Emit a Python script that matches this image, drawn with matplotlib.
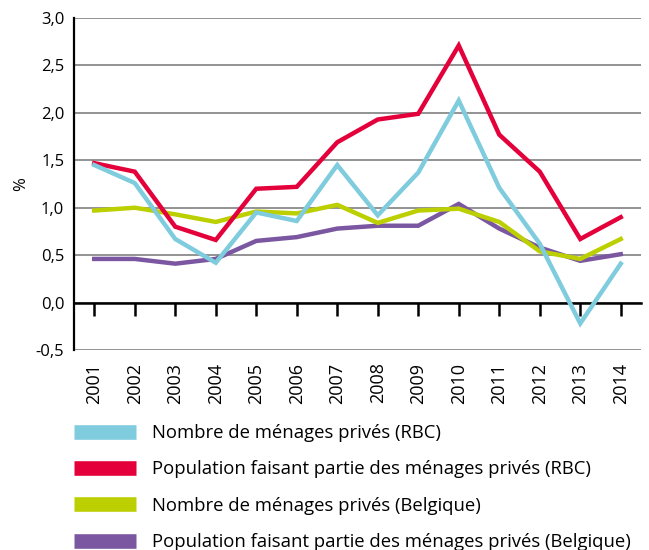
import matplotlib
matplotlib.use("Agg")
import matplotlib.pyplot as plt
from matplotlib.lines import Line2D

plt.rcParams['font.family'] = ['Open Sans', 'DejaVu Sans']

years = ['2001', '2002', '2003', '2004', '2005', '2006', '2007',
         '2008', '2009', '2010', '2011', '2012', '2013', '2014']

menages_rbc = [1.45, 1.26, 0.67, 0.42, 0.95, 0.86, 1.45, 0.92, 1.37, 2.13, 1.21, 0.62, -0.22, 0.41]
pop_rbc = [1.47, 1.38, 0.80, 0.66, 1.20, 1.22, 1.69, 1.93, 1.99, 2.71, 1.77, 1.38, 0.67, 0.90]
menages_be = [0.97, 1.00, 0.93, 0.85, 0.96, 0.94, 1.03, 0.84, 0.97, 0.99, 0.85, 0.54, 0.46, 0.67]
pop_be = [0.46, 0.46, 0.41, 0.46, 0.65, 0.69, 0.78, 0.81, 0.81, 1.04, 0.78, 0.58, 0.44, 0.51]

labels = ['Nombre de ménages privés (RBC)',
          'Population faisant partie des ménages privés (RBC)',
          'Nombre de ménages privés (Belgique)',
          'Population faisant partie des ménages privés (Belgique)']
colors = ['#7ECCDD', '#E4003A', '#BCCF00', '#7A57A0']

yticks = [-0.5, 0.0, 0.5, 1.0, 1.5, 2.0, 2.5, 3.0]

fig = plt.figure(figsize=(6.49, 5.5), dpi=100)
ax = fig.add_axes([74/649, 1-350/550, (641-74)/649, (350-18)/550])

x = list(range(len(years)))
series = [menages_rbc, pop_rbc, menages_be, pop_be]
zorders = [6, 5, 4, 3]
for s, c, z in zip(series, colors, zorders):
    ax.plot(x, s, color=c, lw=3.2, zorder=z, solid_joinstyle='miter')

ax.set_xlim(-0.5, len(years) - 0.5)
ax.set_ylim(-0.5, 3.0)
ax.set_yticks(yticks)
ax.set_yticklabels([('%.1f' % v).replace('.', ',') for v in yticks], fontsize=12)
ax.tick_params(axis='y', length=0, pad=7)
ax.yaxis.grid(True, color='#808080', lw=1.2)
ax.set_axisbelow(True)
ax.set_ylabel('%', fontsize=12, labelpad=5)

for sp in ['top', 'right']:
    ax.spines[sp].set_visible(False)
ax.spines['left'].set_linewidth(1.6)
ax.spines['bottom'].set_position(('data', 0))
ax.spines['bottom'].set_linewidth(1.8)
ax.spines['bottom'].set_zorder(2)
ax.set_xticks(x)
ax.tick_params(axis='x', direction='out', length=9, width=1.8, labelbottom=False)

sec = ax.secondary_xaxis(0.0)
sec.set_xticks(x)
sec.set_xticklabels(years, rotation=90, fontsize=13)
sec.tick_params(length=0, pad=9)
sec.spines['bottom'].set_visible(False)

handles = [Line2D([], [], color=c, lw=10.5, solid_capstyle='butt') for c in colors]
fig.legend(handles, labels, loc='upper left', bbox_to_anchor=(74/649, 1-424/550),
           frameon=False, fontsize=13.3, handlelength=3.35, handletextpad=0.87,
           labelspacing=1.0, borderpad=0, borderaxespad=0)

fig.savefig('out.png', dpi=100)
